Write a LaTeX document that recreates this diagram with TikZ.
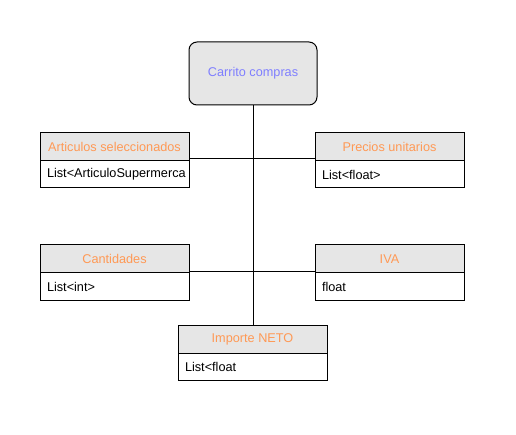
\documentclass[tikz,border=0pt]{standalone}
\usepackage{fontspec}
\setmainfont{Liberation Sans}
\usetikzlibrary{positioning,calc}
\definecolor{hdrfill}{HTML}{E6E6E6}
\definecolor{hdrtext}{HTML}{FF9955}
\definecolor{roottext}{HTML}{7F7FFF}
\begin{document}
\begin{tikzpicture}[x=1pt,y=-1pt,
  every node/.style={font=\fontsize{12.7}{14}\selectfont, inner sep=0pt, outer sep=0pt},
  rootbox/.style={draw=black, line width=1pt, fill=hdrfill, rounded corners=8pt, text=roottext, minimum width=128pt, minimum height=63pt, anchor=north west},
  hdrbox/.style={draw=black, line width=1pt, fill=hdrfill, text=hdrtext, minimum width=149pt, minimum height=28pt, anchor=north west},
  bodybox/.style={draw=black, line width=1pt, fill=white, text=black, minimum width=149pt, minimum height=27pt, anchor=north west, text width=135pt, align=left, inner xsep=7pt},
  conn/.style={draw=black, line width=1pt}
]
\useasboundingbox (0,0) rectangle (516,435);
\node[rootbox] (root) at (189,42) {Carrito compras};
\node[hdrbox] (arth) at (40,133) {Articulos seleccionados};
\node[bodybox] (artb) at (40,161) {List<ArticuloSupermerca};
\node[hdrbox] (prh) at (315,133) {Precios unitarios};
\node[bodybox] (prb) at (315,161) {List<float>};
\node[hdrbox] (canh) at (40,245) {Cantidades};
\node[bodybox] (canb) at (40,273) {List<int>};
\node[hdrbox] (ivah) at (315,245) {IVA};
\node[bodybox] (ivab) at (315,273) {float};
\node[hdrbox] (neth) at (178,325) {Importe NETO};
\node[bodybox] (netb) at (178,353) {List<float};
\draw[conn] (root.south) -- (root.south |- neth.north);
\draw[conn] ([yshift=2pt]arth.south east) -- ([yshift=2pt]prh.south west);
\draw[conn] ([yshift=1pt]canh.south east) -- ([yshift=1pt]ivah.south west);
\end{tikzpicture}
\end{document}
